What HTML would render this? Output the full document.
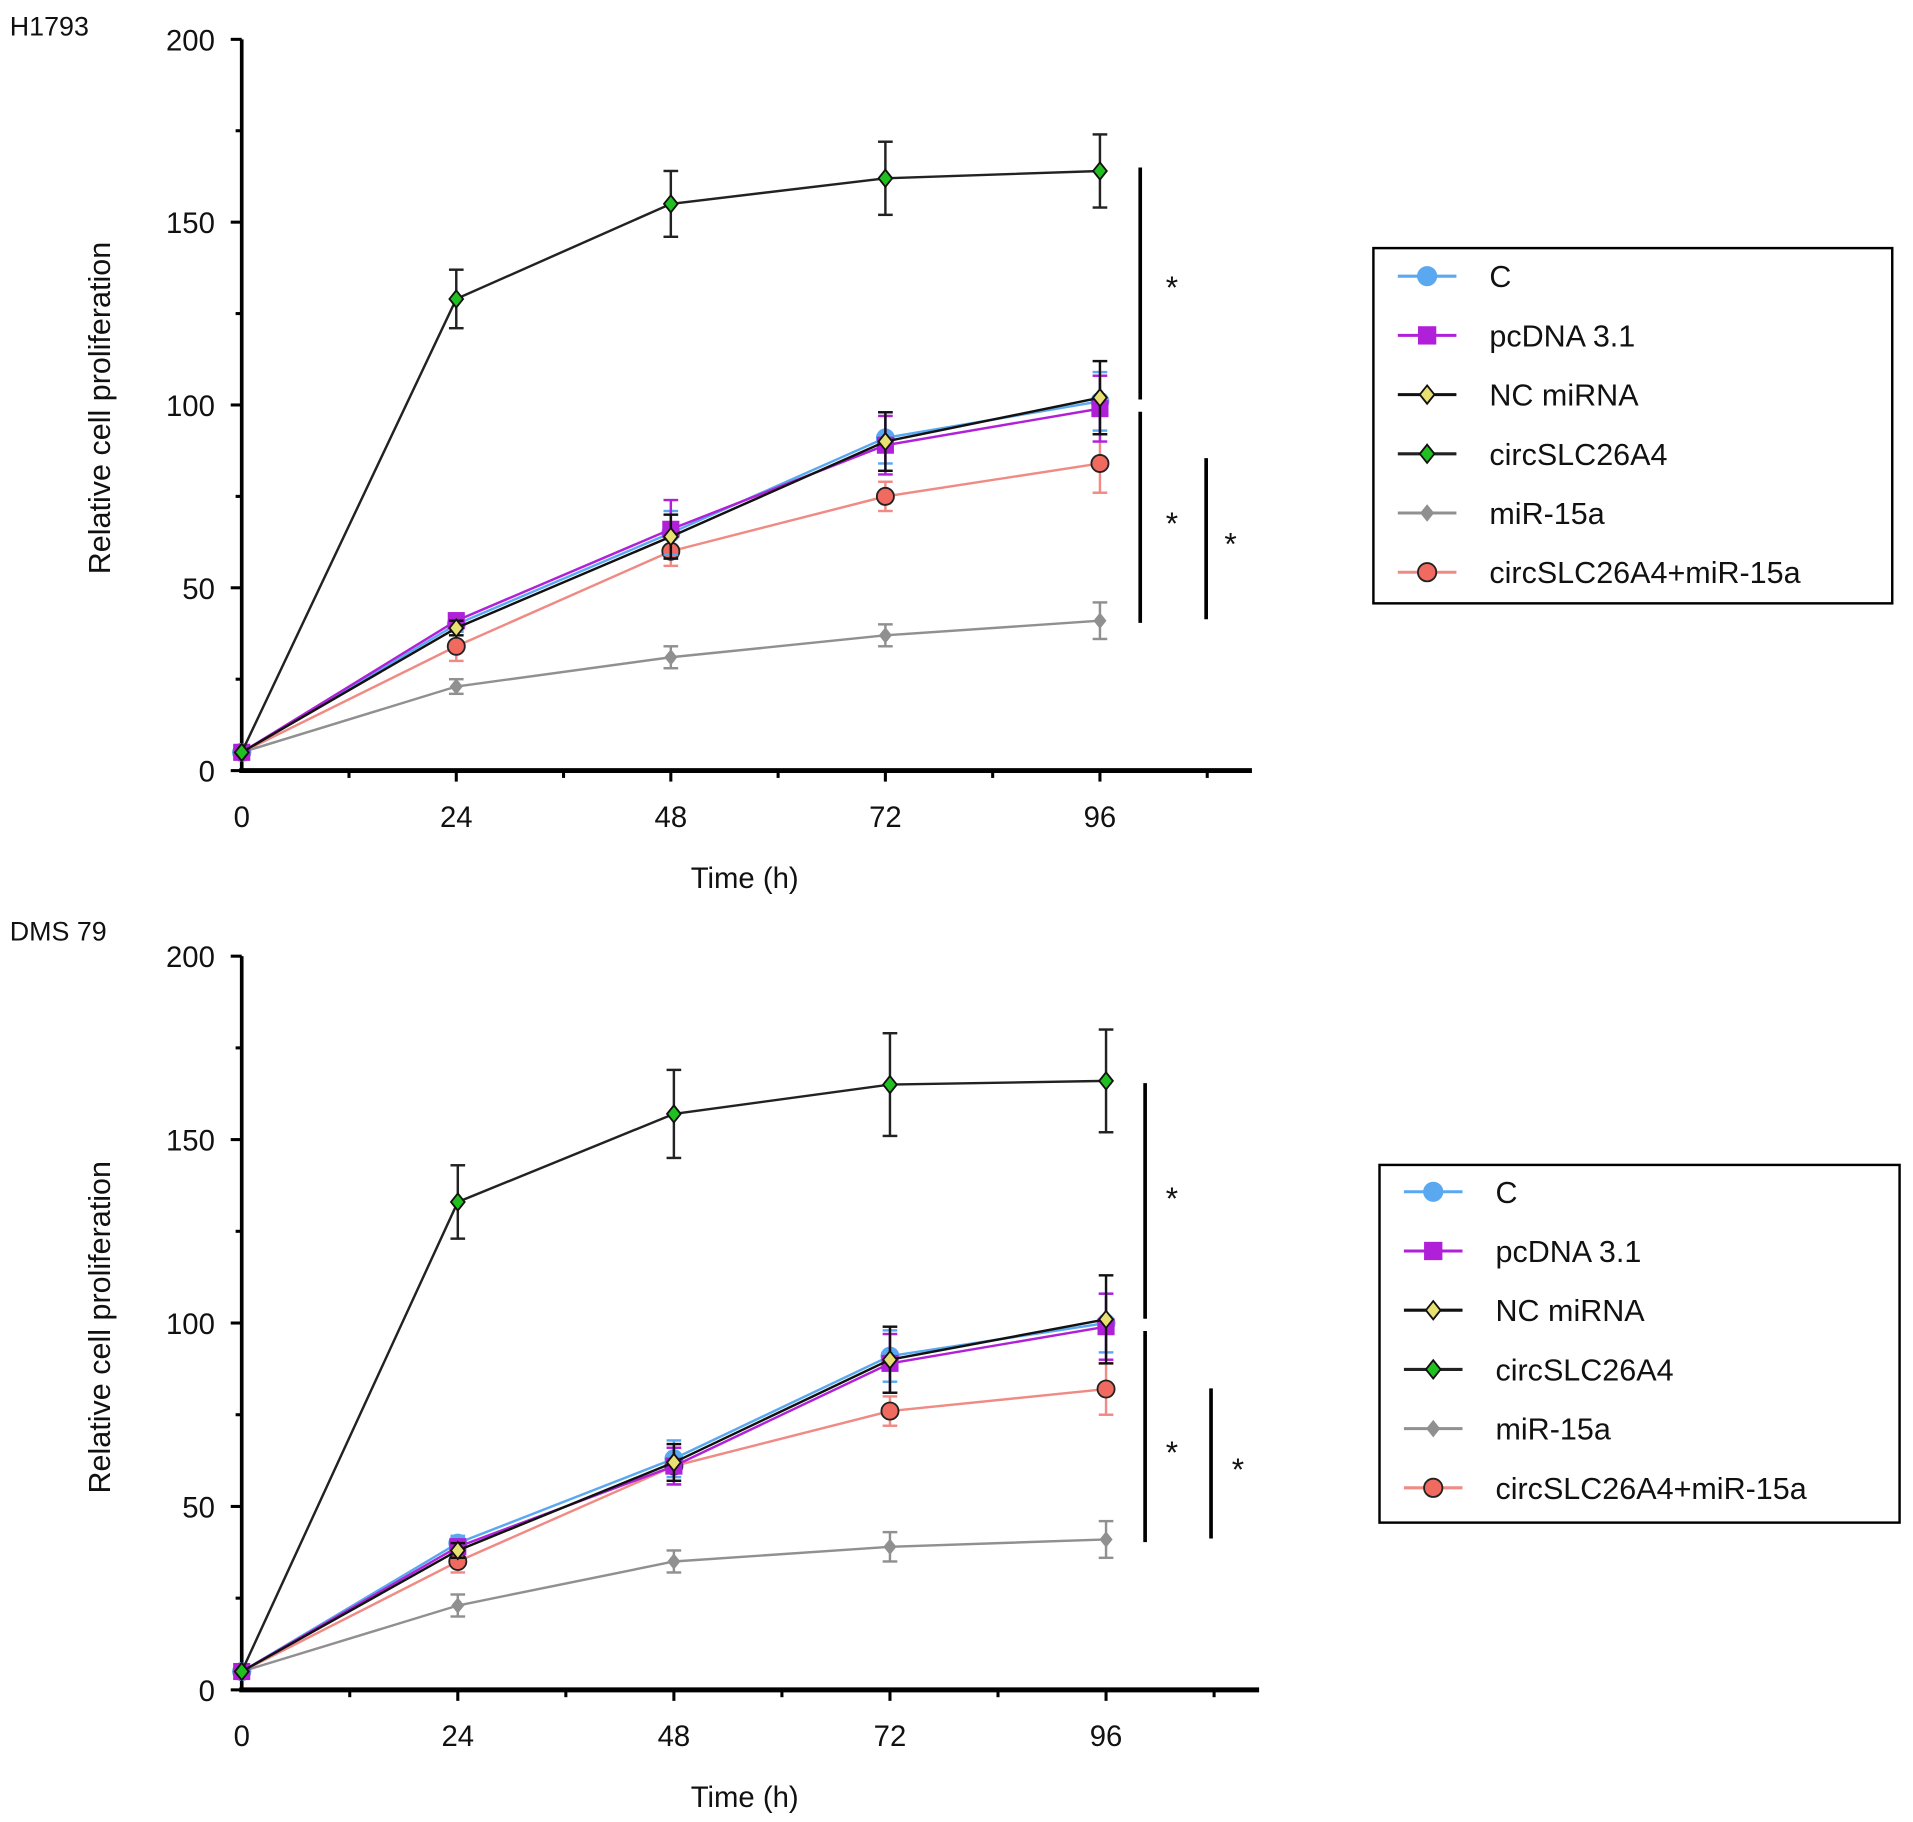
<!DOCTYPE html>
<html><head><meta charset="utf-8"><style>body{margin:0;background:#fff}svg{display:block}text{font-family:"Liberation Sans",sans-serif;fill:#111}</style></head>
<body>
<svg id="fig" width="1913" height="1822" viewBox="0 0 1567 1492" xmlns="http://www.w3.org/2000/svg"></svg>
<script>
const times=[0,24,48,72,96];
const yTicks=[0,50,100,150,200];
const xTicks=[0,24,48,72,96];
const seriesNames=["C","pcDNA 3.1","NC miRNA","circSLC26A4","miR-15a","circSLC26A4+miR-15a"];
const topC=[5,40,65,91,101], topP=[5,41,66,89,99], topNC=[5,39,64,90,102], topCirc=[5,129,155,162,164], topMiR=[5,23,31,37,41], topCM=[5,34,60,75,84];
const topCErr=[0,2,6,7,8], topPErr=[0,2,8,8,9], topNCErr=[0,2,6,8,10], topCircErr=[0,8,9,10,10], topMiRErr=[0,2,3,3,5], topCMErr=[0,4,4,4,8];
const botC=[5,40,63,91,100], botP=[5,39,61,89,99], botNC=[5,38,62,90,101], botCirc=[5,133,157,165,166], botMiR=[5,23,35,39,41], botCM=[5,35,61,76,82];
const botCErr=[0,2,5,7,8], botPErr=[0,2,5,8,9], botNCErr=[0,2,5,9,12], botCircErr=[0,10,12,14,14], botMiRErr=[0,3,3,4,5], botCMErr=[0,3,5,4,7];
const NS="http://www.w3.org/2000/svg";
const svg=document.getElementById('fig');
function mk(tag,attrs,parent){const e=document.createElementNS(NS,tag);for(const k in attrs)e.setAttribute(k,attrs[k]);(parent||svg).appendChild(e);return e;}
const styles=[
 {line:"#5aa9f0",fill:"#5aa9f0",stroke:"#5aa9f0",shape:"circle",w:2},
 {line:"#b020d8",fill:"#b020d8",stroke:"#b020d8",shape:"square",w:2},
 {line:"#111",fill:"#e8e070",stroke:"#111",shape:"diamond",w:2},
 {line:"#222",fill:"#20c020",stroke:"#111",shape:"diamond",w:2},
 {line:"#909090",fill:"#909090",stroke:"#909090",shape:"diamond",w:2},
 {line:"#f08a84",fill:"#f06a60",stroke:"#222",shape:"circle",w:2}];
function marker(g,s,x,y,r){
 if(s.shape=="circle")return mk('circle',{cx:x,cy:y,r:r,fill:s.fill,stroke:s.stroke,'stroke-width':1.5},g);
 if(s.shape=="square")return mk('rect',{x:x-r,y:y-r,width:2*r,height:2*r,fill:s.fill},g);
 return mk('polygon',{points:`${x},${y-r} ${x+r*0.8},${y} ${x},${y+r} ${x-r*0.8},${y}`,fill:s.fill,stroke:s.stroke,'stroke-width':1.5},g);
}
function panel(cfg){
 const g=mk('g',{});
 
 
 const X=t=>cfg.x0+(cfg.x96-cfg.x0)*t/96, Y=v=>cfg.y0-(cfg.y0-cfg.y200)*v/200;
 const t=mk('text',{x:8,y:cfg.titleY,'font-size':22},g);t.textContent=cfg.title;
 
 const ya=mk('line',{x1:cfg.x0,y1:Y(200),x2:cfg.x0,y2:cfg.y0,stroke:'#000','stroke-width':3},g);
 
 const xa=mk('line',{x1:cfg.x0-2,y1:cfg.y0,x2:X(cfg.xEnd),y2:cfg.y0,stroke:'#000','stroke-width':4},g);
 
 for(let v=0;v<=200;v+=25){mk('line',{x1:cfg.x0-(v%50?5:9),y1:Y(v),x2:cfg.x0,y2:Y(v),stroke:'#000','stroke-width':2.5},g);}
 yTicks.forEach(v=>{const l=mk('text',{x:cfg.x0-22,y:Y(v)+9,'font-size':24,'text-anchor':'end'},g);l.textContent=v;
  });
 for(let h=12;h<=cfg.xEnd;h+=12){mk('line',{x1:X(h),y1:cfg.y0,x2:X(h),y2:cfg.y0+(h%24?6:9),stroke:'#000','stroke-width':2.5},g);}
 xTicks.forEach(h=>{const l=mk('text',{x:X(h),y:cfg.y0+46,'font-size':24,'text-anchor':'middle'},g);l.textContent=h;
  });
 const xt=mk('text',{x:610,y:cfg.y0+96,'font-size':24,'text-anchor':'middle'},g);xt.textContent='Time (h)';
 
 const yt=mk('text',{x:0,y:0,'font-size':25,'text-anchor':'middle',transform:`translate(90,${cfg.y0-297}) rotate(-90)`},g);yt.textContent='Relative cell proliferation';
 
 const order=[4,5,0,1,2,3];
 order.forEach(i=>{
  const s=styles[i],vals=cfg.data[i],errs=cfg.errs[i];
  const sg=mk('g',{},g);
  
  
  times.forEach((tm,j)=>{if(errs[j]>0){const x=X(tm);
   mk('line',{x1:x,y1:Y(vals[j]-errs[j]),x2:x,y2:Y(vals[j]+errs[j]),stroke:s.line,'stroke-width':2},sg);
   mk('line',{x1:x-6,y1:Y(vals[j]-errs[j]),x2:x+6,y2:Y(vals[j]-errs[j]),stroke:s.line,'stroke-width':2},sg);
   mk('line',{x1:x-6,y1:Y(vals[j]+errs[j]),x2:x+6,y2:Y(vals[j]+errs[j]),stroke:s.line,'stroke-width':2},sg);}});
  mk('polyline',{points:times.map((tm,j)=>X(tm)+','+Y(vals[j])).join(' '),fill:'none',stroke:s.line,'stroke-width':s.w},sg);
  times.forEach((tm,j)=>{const m=marker(sg,s,X(tm),Y(vals[j]),i==4?5.5:7);
   });
 });
 cfg.sig.forEach(b=>{const l=mk('line',{x1:b[0],y1:b[1],x2:b[0],y2:b[2],stroke:'#000','stroke-width':3},g);
  
  const st=mk('text',{x:b[3],y:b[4]+12,'font-size':26,'text-anchor':'middle'},g);st.textContent='*';
  });
 const L=cfg.legend;
 const lg=mk('g',{},g);
 mk('rect',{x:L[0],y:L[1],width:L[2],height:L[3],fill:'#fff',stroke:'#000','stroke-width':2},lg);
 seriesNames.forEach((n,i)=>{const y=L[4]+i*48.5,s=styles[i];
  const e=mk('g',{},lg);
  mk('line',{x1:L[0]+20,y1:y,x2:L[0]+68,y2:y,stroke:s.line,'stroke-width':2.5},e);
  marker(e,s,L[0]+44,y,i==4?6:7.5);
  const tx=mk('text',{x:L[0]+95,y:y+9,'font-size':25},e);tx.textContent=n;});
}
panel({name:'panel-h1793',title:'H1793',titleY:29,x0:198,x96:901,xEnd:113,y0:631,y200:32,
 data:[topC,topP,topNC,topCirc,topMiR,topCM],errs:[topCErr,topPErr,topNCErr,topCircErr,topMiRErr,topCMErr],
 sig:[[934,137,327,960,232],[934,337,510,960,425],[988,375,507,1008,442]],legend:[1125,203,425,291,226]});
panel({name:'panel-dms79',title:'DMS 79',titleY:770,x0:198,x96:906,xEnd:113,y0:1384,y200:783,
 data:[botC,botP,botNC,botCirc,botMiR,botCM],errs:[botCErr,botPErr,botNCErr,botCircErr,botMiRErr,botCMErr],
 sig:[[938,887,1080,960,978],[938,1090,1263,960,1186],[992,1137,1260,1014,1200]],legend:[1130,954,426,293,976]});
</script>
</body></html>
